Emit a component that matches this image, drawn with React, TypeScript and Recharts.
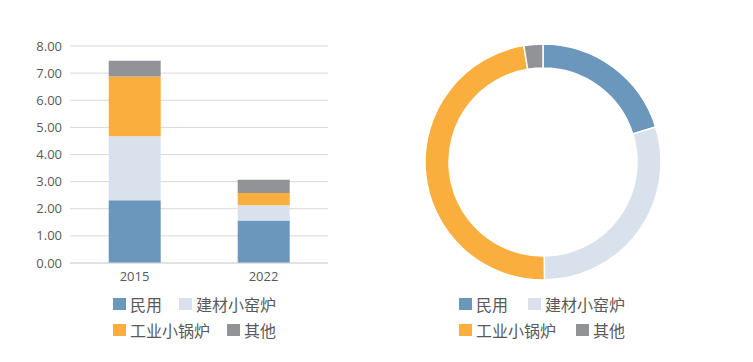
import { BarChart, Bar, XAxis, YAxis, CartesianGrid, PieChart, Pie, Cell } from 'recharts'

// categories / series
const years = ['2015', '2022']
const seriesNames = ['民用', '建材小窑炉', '工业小锅炉', '其他']
const seriesColors = ['#6B97BC', '#D9E2EC', '#F9AE3D', '#929396']

// stacked bar values per series (2015, 2022)
const minyong = [2.31, 1.57]
const jiancai = [2.36, 0.56]
const gongye = [2.21, 0.45]
const qita = [0.58, 0.49]

// donut shares
const shareValues = [20.2, 29.6, 47.6, 2.6]

const yTicks = [0, 1, 2, 3, 4, 5, 6, 7, 8]

const barData = years.map((y, i) => ({
  year: y,
  s0: minyong[i],
  s1: jiancai[i],
  s2: gongye[i],
  s3: qita[i],
}))

const pieData = seriesNames.map((name, i) => ({ name, value: shareValues[i] }))

const textColor = '#595959'
const cjkFont = '"Noto Sans CJK SC", "Noto Sans", sans-serif'

function LegendBlock({ left, top, gap }: { left: number; top: number; gap: number }) {
  const rows = [[0, 1], [2, 3]]
  return (
    <div style={{ position: 'absolute', left, top, fontFamily: cjkFont, fontSize: 16, color: textColor }}>
      {rows.map((row, ri) => (
        <div key={ri} style={{ display: 'flex', alignItems: 'center', height: 26, gap }}>
          {row.map((idx) => (
            <div key={idx} style={{ display: 'flex', alignItems: 'center' }}>
              <span style={{ width: 13, height: 12, background: seriesColors[idx], marginRight: 4, display: 'inline-block' }} />
              <span style={{ lineHeight: '26px' }}>{seriesNames[idx]}</span>
            </div>
          ))}
        </div>
      ))}
    </div>
  )
}

export default function App() {
  return (
    <div style={{ position: 'absolute', left: 0, top: 0, width: 753, height: 362, background: '#fff', overflow: 'hidden' }}>
      <div style={{ position: 'absolute', left: 0, top: 0 }}>
        <BarChart
          width={340}
          height={300}
          data={barData}
          margin={{ top: 46, right: 12, left: 10, bottom: 7 }}
          barCategoryGap="30%"
        >
          <CartesianGrid vertical={false} stroke="#D9D9D9" />
          <XAxis
            dataKey="year"
            height={30}
            tickLine={false}
            axisLine={{ stroke: '#D9D9D9' }}
            tickMargin={3}
            tick={{ fill: textColor, fontSize: 13, fontFamily: 'Open Sans, sans-serif' }}
          />
          <YAxis
            width={60}
            domain={[0, 8]}
            ticks={yTicks}
            tickLine={false}
            axisLine={false}
            tickFormatter={(v: number) => v.toFixed(2)}
            tick={{ fill: textColor, fontSize: 13, fontFamily: 'Open Sans, sans-serif' }}
          />
          {['s0', 's1', 's2', 's3'].map((k, i) => (
            <Bar key={k} dataKey={k} stackId="a" fill={seriesColors[i]} isAnimationActive={false} />
          ))}
        </BarChart>
      </div>
      <LegendBlock left={113} top={291} gap={17} />

      <div style={{ position: 'absolute', left: 400, top: 0 }}>
        <PieChart width={290} height={300}>
          <Pie
            data={pieData}
            dataKey="value"
            cx={138}
            cy={157}
            innerRadius={94}
            outerRadius={118}
            startAngle={90}
            endAngle={-270}
            stroke="#fff"
            strokeWidth={1.5}
            isAnimationActive={false}
          >
            {pieData.map((d, i) => (
              <Cell key={d.name} fill={seriesColors[i]} />
            ))}
          </Pie>
        </PieChart>
      </div>
      <LegendBlock left={459} top={291} gap={20} />
    </div>
  )
}
